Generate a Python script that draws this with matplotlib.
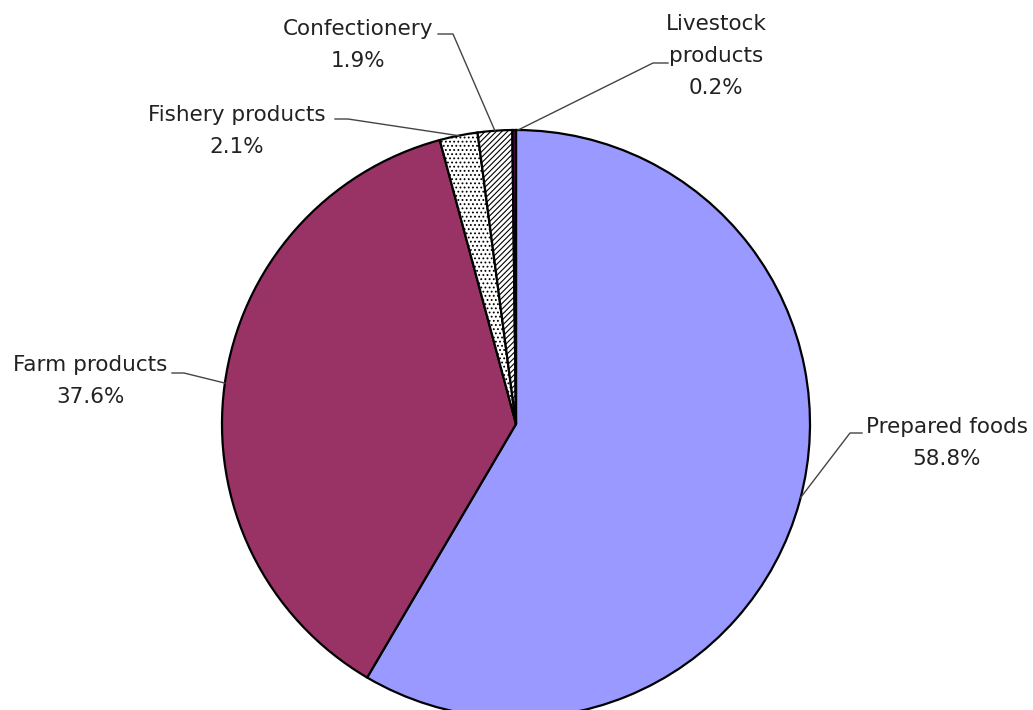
import numpy as np
import matplotlib
matplotlib.use("Agg")
import matplotlib.pyplot as plt

plt.rcParams['hatch.linewidth'] = 0.8

labels = ["Prepared foods", "Farm products", "Fishery products", "Confectionery", "Livestock\nproducts"]
shares = [58.8, 37.6, 2.1, 1.9, 0.2]
colors = ["#9999FF", "#993366", "white", "white", "#4A0A4A"]
hatches = [None, None, "....", "//////", None]

# label centre positions (pixels from top-left) and leader points
label_px = [(947, 443), (90, 381), (237, 131), (358, 45), (716, 56)]
join_px = [(850, 433), (184, 373), (348, 119), (453, 34), (653, 63)]
tip_px = [(862, 433), (172, 373), (335, 119), (438, 34), (668, 63)]
anchor_deg = [-14.5, 172.0, None, None, 89.6]

W, H = 1033, 710
cx, cy, R = 516, 424, 294


def to_data(p):
    return ((p[0] - cx) / R, (cy - p[1]) / R)


fig = plt.figure(figsize=(W / 100, H / 100), dpi=100)
ax = fig.add_axes([0, 0, 1, 1])

wedges, _ = ax.pie(shares, colors=colors, startangle=90, counterclock=False,
                   radius=1.0, frame=True,
                   wedgeprops=dict(edgecolor="black", linewidth=1.6))
for w, h in zip(wedges, hatches):
    if h:
        w.set_hatch(h)

for i, w in enumerate(wedges):
    ang = anchor_deg[i]
    if ang is None:
        ang = (w.theta1 + w.theta2) / 2
    a = np.deg2rad(ang)
    ax_pt = (np.cos(a), np.sin(a))
    j = to_data(join_px[i])
    t = to_data(tip_px[i])
    ax.plot([ax_pt[0], j[0], t[0]], [ax_pt[1], j[1], t[1]],
            color="#444444", lw=1.0, zorder=5)
    lx, ly = to_data(label_px[i])
    ax.text(lx, ly, f"{labels[i]}\n{shares[i]}%", ha="center", va="center",
            multialignment="center", fontsize=15.5, color="#222222",
            linespacing=1.78)

ax.set_xlim(-cx / R, (W - cx) / R)
ax.set_ylim((cy - H) / R, cy / R)
ax.set_aspect("equal")
ax.axis("off")

fig.savefig("out.png", dpi=100)
